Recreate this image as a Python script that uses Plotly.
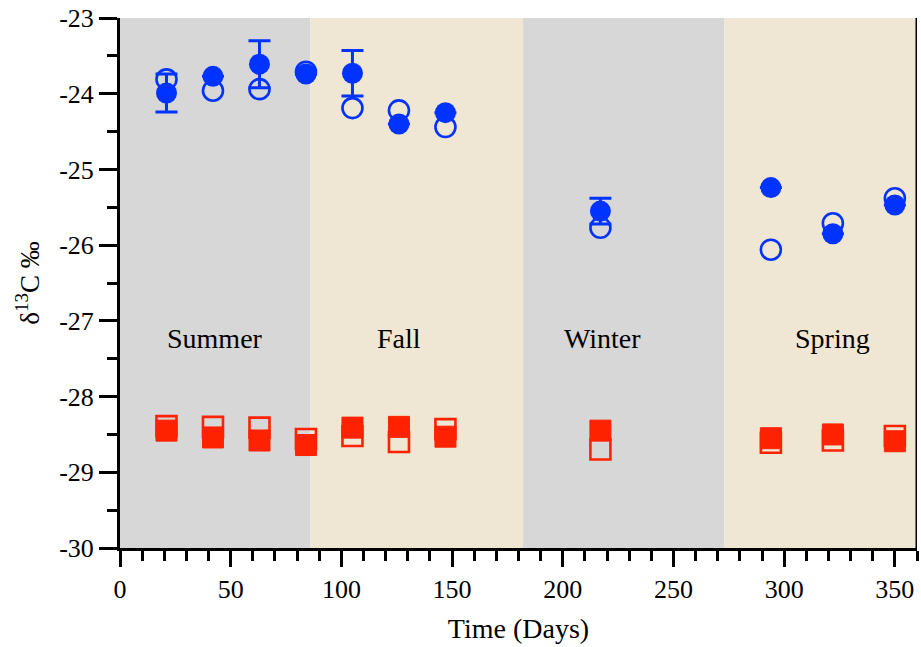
import plotly.graph_objects as go

# Sampling days across the year
days = [21, 42, 63, 84, 105, 126, 147, 217, 294, 322, 350]

# Blue series: filled circles (with SD where measured) and open circles
blue_filled = [-23.99, -23.77, -23.61, -23.74, -23.73, -24.40, -24.25, -25.55, -25.24, -25.85, -25.47]
blue_filled_err = [0.25, None, 0.31, None, 0.30, None, None, 0.17, None, None, None]
blue_open = [-23.81, -23.96, -23.94, -23.71, -24.19, -24.22, -24.44, -25.77, -26.06, -25.71, -25.38]

# Red series: filled and open squares
red_filled = [-28.45, -28.54, -28.58, -28.64, -28.41, -28.40, -28.53, -28.45, -28.55, -28.50, -28.59]
red_open = [-28.39, -28.40, -28.41, -28.56, -28.52, -28.60, -28.43, -28.70, -28.61, -28.58, -28.52]

# Seasons: name, start day, end day, label position
season_names = ["Summer", "Fall", "Winter", "Spring"]
season_start = [0, 86, 182, 273]
season_end = [86, 182, 273, 360]
season_label_x = [43, 126, 218, 322]
season_label_y = -27.23
season_colors = ["#D7D7D7", "#EFE6D3", "#D7D7D7", "#EFE6D3"]

# Axis ticks
x_tick_vals = [0, 50, 100, 150, 200, 250, 300, 350]
x_tick_text = ["0", "50", "100", "150", "200", "250", "300", "350"]
y_tick_vals = [-30, -29, -28, -27, -26, -25, -24, -23]
y_tick_text = ["-30", "-29", "-28", "-27", "-26", "-25", "-24", "-23"]

BLUE = "#0033FF"
RED = "#FF2200"
FONT = "Liberation Serif"

fig = go.Figure()

fig.add_trace(go.Scatter(
    x=days, y=blue_open, mode="markers",
    marker=dict(symbol="circle-open", size=20, color=BLUE, line=dict(width=2.6, color=BLUE)),
    showlegend=False,
))
fig.add_trace(go.Scatter(
    x=days, y=red_open, mode="markers",
    marker=dict(symbol="square-open", size=20, color=RED, line=dict(width=2.6, color=RED)),
    showlegend=False,
))
fig.add_trace(go.Scatter(
    x=days, y=blue_filled, mode="markers",
    marker=dict(symbol="circle", size=21, color=BLUE),
    error_y=dict(type="data", array=blue_filled_err, visible=True,
                 color=BLUE, thickness=3, width=11),
    showlegend=False,
))
fig.add_trace(go.Scatter(
    x=days, y=red_filled, mode="markers",
    marker=dict(symbol="square", size=21, color=RED, line=dict(width=1, color=RED)),
    showlegend=False,
))

shapes = []
for x0, x1, c in zip(season_start, season_end, season_colors):
    shapes.append(dict(type="rect", xref="x", yref="paper", x0=x0, x1=x1, y0=0, y1=1,
                       fillcolor=c, line=dict(width=0), layer="below"))
shapes.append(dict(type="line", xref="x", yref="paper", x0=360, x1=360, y0=0, y1=1,
                   line=dict(color="black", width=3)))

annotations = [
    dict(x=x, y=season_label_y, xref="x", yref="y", text=name, showarrow=False,
         font=dict(family=FONT, size=28, color="black"))
    for name, x in zip(season_names, season_label_x)
]

fig.update_layout(
    width=921, height=647,
    margin=dict(l=120, r=4, t=18, b=99),
    paper_bgcolor="white", plot_bgcolor="white",
    font=dict(family=FONT, color="black"),
    shapes=shapes,
    annotations=annotations,
)

fig.update_xaxes(
    range=[0, 360], showgrid=False, zeroline=False,
    showline=True, linecolor="black", linewidth=3,
    tickmode="array", tickvals=x_tick_vals, ticktext=x_tick_text,
    ticks="outside", ticklen=16, tickwidth=3, tickcolor="black",
    tickfont=dict(family=FONT, size=26, color="black"),
    minor=dict(dtick=10, tick0=0, ticks="outside", ticklen=10, tickwidth=3, tickcolor="black", showgrid=False),
    title=dict(text="Time (Days)", font=dict(family=FONT, size=28, color="black"), standoff=16),
)
fig.update_yaxes(
    range=[-30, -23], showgrid=False, zeroline=False,
    showline=True, linecolor="black", linewidth=3,
    tickmode="array", tickvals=y_tick_vals, ticktext=y_tick_text,
    ticks="outside", ticklen=18, tickwidth=3, tickcolor="black",
    tickfont=dict(family=FONT, size=26, color="black"),
    minor=dict(dtick=0.5, tick0=-30, ticks="outside", ticklen=10, tickwidth=3, tickcolor="black", showgrid=False),
    title=dict(text="δ<sup>13</sup>C ‰", font=dict(family=FONT, size=27, color="black"), standoff=12),
)

fig.write_html("out.html")
